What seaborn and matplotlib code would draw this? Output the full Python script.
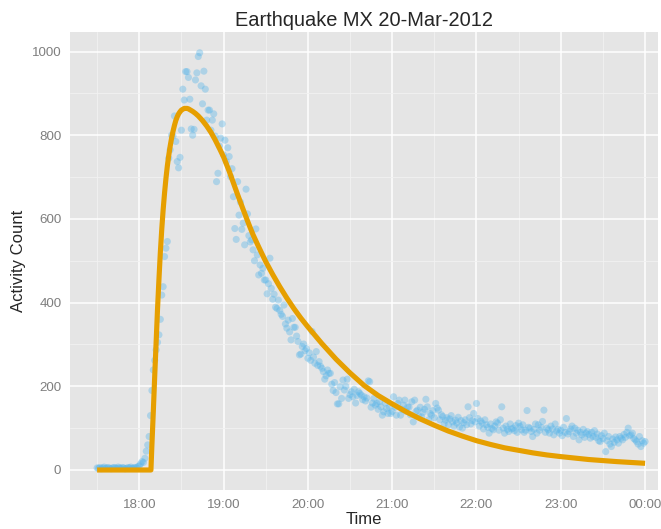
import pandas as pd
import seaborn as sns
import matplotlib.pyplot as plt
import matplotlib.dates as mdates
from matplotlib.ticker import MultipleLocator

# Activity counts, one per minute from 17:30 to 00:00
start = "2012-03-20 17:30"
counts = [
    5, 4, 6, 3, 5, 7, 4, 5, 6, 4,
    3, 5, 6, 5, 4, 7, 5, 4, 6, 5,
    3, 4, 6, 5, 7, 4, 5, 6, 5, 8,
    10, 15, 20, 18, 28, 45, 60, 80, 130, 190,
    239, 262, 287, 305, 323, 360, 418, 438, 510, 530,
    546, 745, 765, 800, 798, 846, 785, 737, 722, 747,
    812, 910, 884, 952, 952, 938, 886, 815, 800, 814,
    932, 949, 988, 997, 918, 875, 953, 910, 836, 860,
    860, 812, 836, 851, 798, 689, 709, 774, 793, 827,
    753, 788, 737, 770, 749, 701, 720, 653, 577, 551,
    689, 609, 640, 575, 590, 538, 671, 612, 560, 545,
    550, 526, 500, 576, 514, 466, 490, 470, 482, 454,
    454, 421, 445, 506, 434, 408, 420, 389, 386, 406,
    381, 372, 367, 394, 349, 339, 358, 330, 311, 362,
    341, 341, 320, 307, 275, 277, 295, 301, 285, 290,
    267, 280, 262, 331, 270, 255, 283, 250, 259, 248,
    243, 235, 217, 225, 239, 231, 231, 205, 190, 209,
    185, 158, 158, 199, 171, 215, 191, 200, 217, 171,
    180, 187, 175, 193, 160, 178, 187, 183, 179, 168,
    175, 165, 172, 213, 211, 150, 160, 171, 155, 159,
    145, 163, 151, 131, 139, 160, 147, 135, 150, 135,
    140, 175, 150, 131, 159, 167, 131, 145, 155, 167,
    140, 151, 150, 132, 163, 115, 167, 140, 143, 128,
    150, 127, 138, 145, 169, 151, 120, 135, 131, 142,
    125, 159, 148, 143, 120, 132, 128, 110, 119, 125,
    108, 122, 130, 115, 105, 119, 112, 126, 103, 118,
    100, 113, 120, 108, 151, 125, 110, 118, 135, 115,
    159, 123, 105, 117, 112, 98, 120, 108, 102, 88,
    110, 99, 96, 105, 115, 112, 95, 120, 151, 100,
    88, 105, 97, 92, 110, 98, 100, 94, 106, 90,
    112, 104, 96, 108, 90, 95, 142, 102, 100, 92,
    80, 97, 110, 88, 108, 95, 102, 116, 143, 90,
    100, 96, 88, 105, 98, 84, 110, 93, 97, 88,
    95, 82, 102, 90, 123, 86, 92, 98, 105, 80,
    100, 88, 95, 72, 90, 84, 97, 78, 88, 92,
    85, 76, 90, 80, 94, 78, 86, 70, 68, 82,
    75, 88, 44, 70, 80, 62, 56, 74, 66, 79,
    72, 64, 80, 76, 72, 85, 78, 90, 100, 82,
    84, 88, 75, 72, 68, 62, 80, 56, 70, 64,
    68,
]

# fitted curve, minutes after 18:00
curve_minutes = [-30, 8.3, 9, 10, 11, 12, 13, 14, 15, 16, 17, 18, 19, 20, 21, 22,
                 23, 24, 25, 26, 27, 28, 29, 30, 31, 32, 33, 34, 35, 36, 38, 40,
                 42, 45, 48, 51, 54, 57, 60, 64, 67, 70, 74, 78, 81, 85, 90, 95,
                 100, 105, 110, 115, 120, 130, 140, 150, 160, 170, 180, 190, 200,
                 210, 220, 230, 240, 250, 260, 270, 280, 290, 300, 320, 340, 360]
curve_values = [0, 0, 60, 140, 225, 305, 385, 455, 520, 575, 622, 662, 697, 727, 752, 774,
                793, 809, 823, 835, 844, 851, 856, 860, 862, 864, 864, 864, 863, 861, 857, 852,
                846, 835, 822, 807, 789, 769, 748, 714, 686, 658, 622, 587, 562, 533, 498, 467,
                438, 411, 386, 363, 342, 302, 265, 232, 202, 178, 158, 139, 122,
                107, 93, 81, 70, 61, 53, 47, 41, 36, 32, 25, 20, 16]

quake = pd.DataFrame({"Time": pd.date_range(start, periods=len(counts), freq="min"),
                      "Count": counts})
origin = pd.Timestamp("2012-03-20 18:00")
fit = pd.DataFrame({"Time": origin + pd.to_timedelta(curve_minutes, unit="min"),
                    "Count": curve_values})

sns.set_style("darkgrid", {"axes.facecolor": "#E5E5E5", "grid.color": "white"})
plt.rcParams["font.family"] = ["Liberation Sans", "DejaVu Sans"]

fig = plt.figure(figsize=(6.61, 5.29), dpi=100)
ax = fig.add_axes([70 / 661, 39 / 529, 588 / 661, 458 / 529])

sns.scatterplot(data=quake, x="Time", y="Count", color="#56B4E9", alpha=0.38,
                s=26, edgecolor="none", ax=ax)
sns.lineplot(data=fit, x="Time", y="Count", color="#E69F00", linewidth=3.7,
             solid_capstyle="butt", ax=ax)

ax.set_xlim(origin - pd.Timedelta(minutes=49.3), origin + pd.Timedelta(minutes=369.2))
ax.set_ylim(-47.8, 1046.6)

ax.xaxis.set_major_locator(mdates.HourLocator())
ax.xaxis.set_minor_locator(mdates.MinuteLocator(byminute=[30]))
ax.xaxis.set_major_formatter(mdates.DateFormatter("%H:%M"))
ax.yaxis.set_major_locator(MultipleLocator(200))
ax.yaxis.set_minor_locator(MultipleLocator(100))

ax.grid(which="major", color="white", linewidth=1.1)
ax.grid(which="minor", color="#F2F2F2", linewidth=0.6)
ax.set_axisbelow(True)
for s in ax.spines.values():
    s.set_visible(False)

ax.tick_params(which="major", length=4.25, width=0.8, color="#7F7F7F",
               labelcolor="#7F7F7F", labelsize=9.6, pad=2)
ax.tick_params(which="minor", length=0)

ax.set_title("Earthquake MX 20-Mar-2012", fontsize=14.4, pad=4)
ax.set_xlabel("Time", fontsize=12, labelpad=1)
ax.set_ylabel("Activity Count", fontsize=12, labelpad=4)

fig.savefig("out.png", dpi=100)
